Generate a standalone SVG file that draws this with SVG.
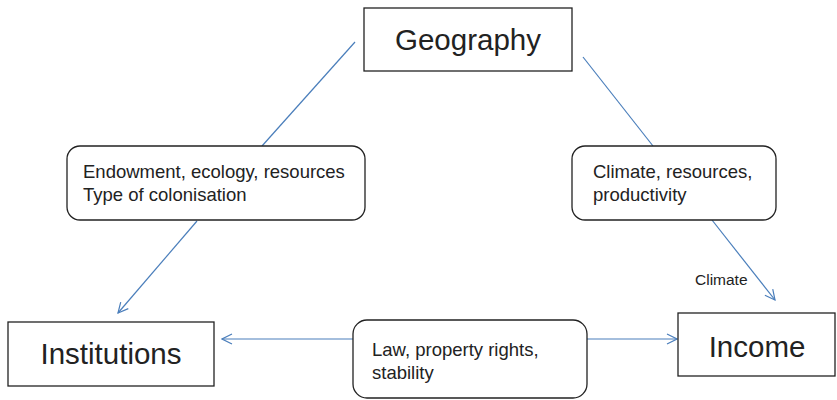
<svg xmlns="http://www.w3.org/2000/svg" width="837" height="400" viewBox="0 0 837 400">
<style>
.box{fill:#fff;stroke:#222;stroke-width:1.3}
.big{font-family:"Liberation Sans",Arial,sans-serif;font-size:29.5px;fill:#222}
.mid{font-family:"Liberation Sans",Arial,sans-serif;font-size:18.5px;fill:#222}
.sm{font-family:"Liberation Sans",Arial,sans-serif;font-size:15.5px;fill:#222}
.ln{stroke:#4a7ebb;stroke-width:1.2;fill:none}
</style>
<defs>
<marker id="ah" viewBox="0 0 12 12" refX="11" refY="6" markerWidth="12" markerHeight="12" markerUnits="userSpaceOnUse" orient="auto">
<path d="M1,1 L11,6 L1,11" fill="none" stroke="#4a7ebb" stroke-width="1.2"/>
</marker>
</defs>
<g id="connectors">
<path class="ln" d="M355,42 L262,146"/>
<path class="ln" d="M197,221 L118,313" marker-end="url(#ah)"/>
<path class="ln" d="M583,57 L653,146"/>
<path class="ln" d="M712,220 L775,300" marker-end="url(#ah)"/>
<path class="ln" d="M353,339 L222,339" marker-end="url(#ah)"/>
<path class="ln" d="M587,339 L677,339" marker-end="url(#ah)"/>
<text class="sm" x="695" y="285">Climate</text>
</g>
<g id="geography">
<rect class="box" x="364" y="8" width="208" height="63"/>
<text class="big" x="468" y="50" text-anchor="middle">Geography</text>
</g>
<g id="endowment">
<rect class="box" x="67" y="146" width="298" height="74" rx="13"/>
<text class="mid" x="83" y="178">Endowment, ecology, resources</text>
<text class="mid" x="83" y="201">Type of colonisation</text>
</g>
<g id="climate">
<rect class="box" x="572" y="146" width="204" height="74" rx="13"/>
<text class="mid" x="593" y="178">Climate, resources,</text>
<text class="mid" x="593" y="201">productivity</text>
</g>
<g id="institutions">
<rect class="box" x="8" y="322" width="206" height="64"/>
<text class="big" x="111" y="364" text-anchor="middle">Institutions</text>
</g>
<g id="law">
<rect class="box" x="353" y="320" width="234" height="78" rx="14"/>
<text class="mid" x="372" y="356">Law, property rights,</text>
<text class="mid" x="372" y="379">stability</text>
</g>
<g id="income">
<rect class="box" x="678" y="313" width="157" height="63"/>
<text class="big" x="757" y="357" text-anchor="middle">Income</text>
</g>
</svg>
